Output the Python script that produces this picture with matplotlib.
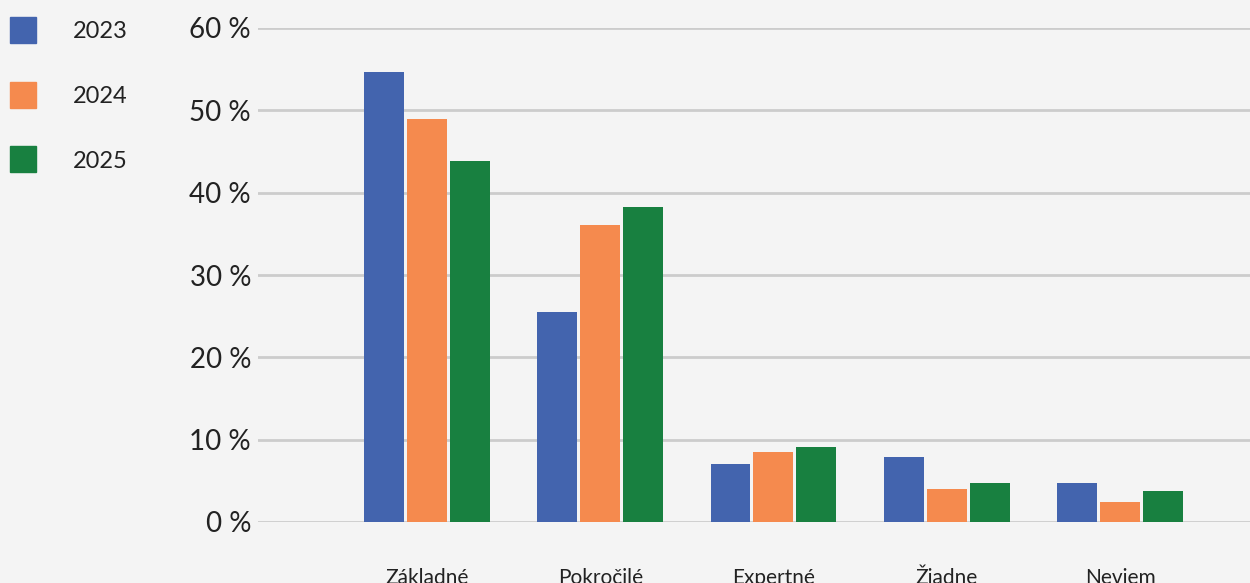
import matplotlib
matplotlib.use('Agg')
import matplotlib.pyplot as plt
from matplotlib.patches import Rectangle
from matplotlib.ticker import FuncFormatter
import numpy as np

plt.rcParams['font.family'] = ['Lato', 'DejaVu Sans']

categories = ['Základné', 'Pokročilé', 'Expertné', 'Žiadne', 'Neviem']
years = ['2023', '2024', '2025']
values_2023 = [54.7, 25.5, 7.0, 7.9, 4.7]
values_2024 = [49.0, 36.1, 8.5, 4.0, 2.4]
values_2025 = [43.9, 38.2, 9.1, 4.7, 3.8]
colors = ['#4364ae', '#f58a4e', '#188040']

BG = '#f4f4f4'
W, H = 1250, 583


def main():
    fig = plt.figure(figsize=(W / 100, H / 100), dpi=100, facecolor=BG)
    ax = fig.add_axes([258 / W, (H - 522) / H, 1 - 258 / W, (522 - 28) / H])
    ax.set_facecolor(BG)

    x = np.arange(len(categories))
    width = 40 / 173.3
    step = 43 / 173.3
    series = [values_2023, values_2024, values_2025]
    for i, (vals, col) in enumerate(zip(series, colors)):
        ax.bar(x + (i - 1) * step, vals, width=width, color=col, zorder=3)

    ax.set_xlim(-0.975, 4.75)
    ax.set_ylim(0, 60)
    ax.set_yticks(range(0, 61, 10))
    ax.yaxis.set_major_formatter(FuncFormatter(lambda v, p: '%d %%' % v))
    ax.set_xticks(x)
    ax.set_xticklabels(categories)
    ax.grid(axis='y', color='#cccccc', linewidth=2, zorder=0)
    ax.tick_params(axis='y', length=0, pad=5, labelsize=20, labelcolor='#222222')
    ax.tick_params(axis='x', length=0, pad=33, labelsize=15, labelcolor='#222222')
    for s in ax.spines.values():
        s.set_visible(False)

    # legend drawn as plain squares and labels in the top-left corner
    for i, (year, col) in enumerate(zip(years, colors)):
        top = 17 + i * 64.5
        fig.patches.append(Rectangle((10 / W, (H - top - 26) / H), 26 / W, 26 / H,
                                     transform=fig.transFigure, color=col))
        fig.text(73 / W, (H - top - 15) / H, year, fontsize=17, color='#222222',
                 va='center', ha='left')

    fig.savefig('out.png', dpi=100, facecolor=BG)


if __name__ == '__main__':
    main()
